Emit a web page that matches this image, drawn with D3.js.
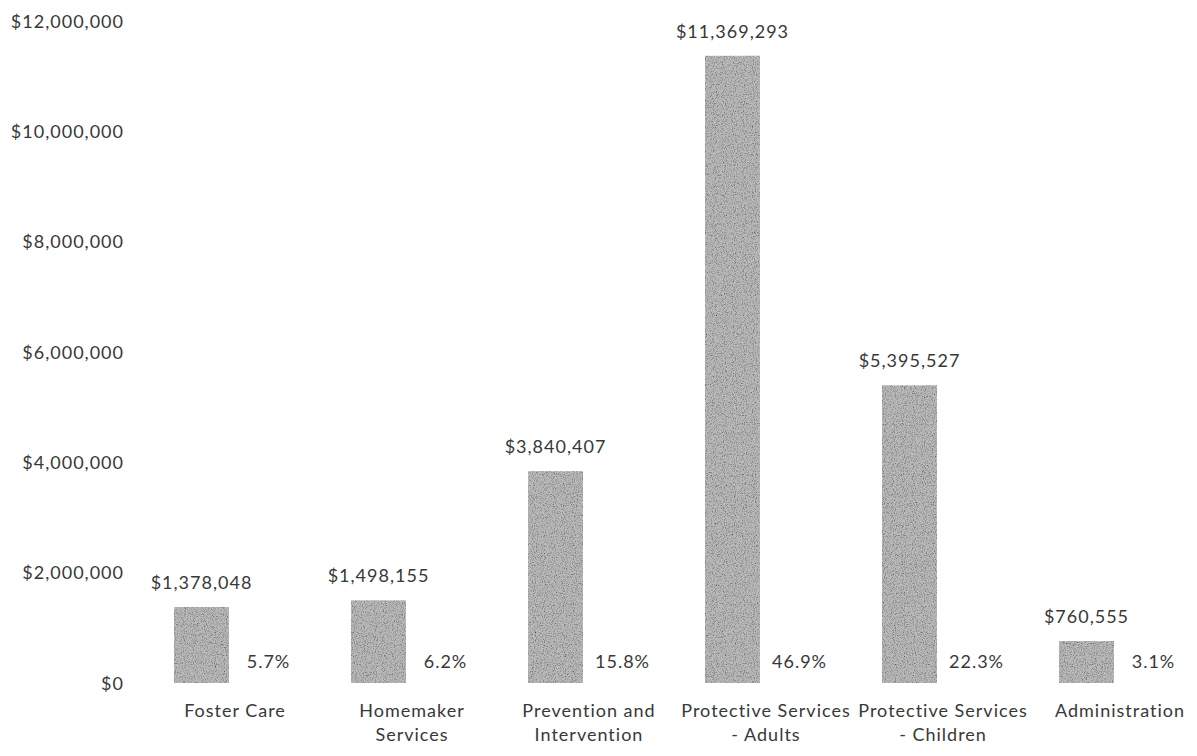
<!DOCTYPE html>
<html>
<head>
<meta charset="utf-8">
<script src="https://cdn.jsdelivr.net/npm/d3@7"></script>
<style>
  body { margin: 0; background: #fff; }
  svg text { font-family: Lato, "Open Sans", sans-serif; fill: #383838; letter-spacing: 1px; }
</style>
</head>
<body>
<div id="chart"></div>
<script>
var width = 1197,
    height = 756;

// data
var categories = ['Foster Care', 'Homemaker Services', 'Prevention and Intervention',
                  'Protective Services - Adults', 'Protective Services - Children', 'Administration'];
var labelLines = [['Foster Care'], ['Homemaker', 'Services'], ['Prevention and', 'Intervention'],
                  ['Protective Services', '- Adults'], ['Protective Services', '- Children'], ['Administration']];
var amounts = [1378048, 1498155, 3840407, 11369293, 5395527, 760555];
var shares = [5.7, 6.2, 15.8, 46.9, 22.3, 3.1];
var yTicks = [0, 2000000, 4000000, 6000000, 8000000, 10000000, 12000000];

var svg = d3.select('#chart').append('svg')
    .attr('width', width)
    .attr('height', height);

// grainy grey like the scanned fill
var defs = svg.append('defs');
var f = defs.append('filter')
    .attr('id', 'grain')
    .attr('x', 0).attr('y', 0).attr('width', 1).attr('height', 1);
f.append('feTurbulence')
    .attr('type', 'fractalNoise')
    .attr('baseFrequency', 0.9)
    .attr('numOctaves', 2)
    .attr('seed', 3)
    .attr('result', 'noise');
f.append('feColorMatrix')
    .attr('in', 'noise')
    .attr('type', 'matrix')
    .attr('values', '0 0 0 0 0  0 0 0 0 0  0 0 0 0 0  -1.8 0 0 0 1.0')
    .attr('result', 'dark');
f.append('feComposite')
    .attr('in', 'dark')
    .attr('in2', 'SourceGraphic')
    .attr('operator', 'in')
    .attr('result', 'darkIn');
f.append('feMerge').call(function(m) {
    m.append('feMergeNode').attr('in', 'SourceGraphic');
    m.append('feMergeNode').attr('in', 'darkIn');
});

var x = d3.scaleBand()
    .domain(categories)
    .range([146.5, 1208.5]);

var sub = d3.scaleBand()
    .domain(['amount', 'share'])
    .range([0, x.bandwidth()])
    .paddingInner(0.18)
    .paddingOuter(0.41);

var y = d3.scaleLinear()
    .domain([0, 12000000])
    .range([683, 21]);

var money = d3.format('$,');

// y axis: labels only
var yAxis = d3.axisLeft(y)
    .tickValues(yTicks)
    .tickFormat(money)
    .tickSize(0)
    .tickPadding(0);
var gy = svg.append('g')
    .attr('transform', 'translate(124,0)')
    .call(yAxis);
gy.select('.domain').remove();
gy.selectAll('text')
    .style('font-size', '18px')
    .attr('dy', '0.35em');

// bars
svg.append('g').selectAll('rect')
    .data(categories)
    .enter()
    .append('rect')
    .attr('x', function(d) { return x(d) + sub('amount'); })
    .attr('width', sub.bandwidth())
    .attr('y', function(d, i) { return y(amounts[i]); })
    .attr('height', function(d, i) { return y(0) - y(amounts[i]); })
    .style('fill', '#bababa')
    .attr('filter', 'url(#grain)');

// value labels
svg.append('g').selectAll('text')
    .data(categories)
    .enter()
    .append('text')
    .attr('x', function(d) { return x(d) + sub('amount') + sub.bandwidth() / 2; })
    .attr('y', function(d, i) { return y(amounts[i]) - 18; })
    .attr('text-anchor', 'middle')
    .style('font-size', '18px')
    .text(function(d, i) { return money(amounts[i]); });

// share labels
svg.append('g').selectAll('text')
    .data(categories)
    .enter()
    .append('text')
    .attr('x', function(d) { return x(d) + sub('share') + sub.bandwidth() / 2; })
    .attr('y', y(0) - 15)
    .attr('text-anchor', 'middle')
    .style('font-size', '18px')
    .text(function(d, i) { return shares[i].toFixed(1) + '%'; });

// category labels
var cat = svg.append('g').selectAll('text')
    .data(categories)
    .enter()
    .append('text')
    .attr('text-anchor', 'middle')
    .attr('x', function(d) { return x(d) + x.bandwidth() / 2; })
    .attr('y', 717)
    .style('font-size', '18px');
cat.selectAll('tspan')
    .data(function(d, i) { return labelLines[i]; })
    .enter()
    .append('tspan')
    .attr('x', function() { return d3.select(this.parentNode).attr('x'); })
    .attr('dy', function(d, j) { return j === 0 ? 0 : 24; })
    .text(function(d) { return d; });
</script>
</body>
</html>
